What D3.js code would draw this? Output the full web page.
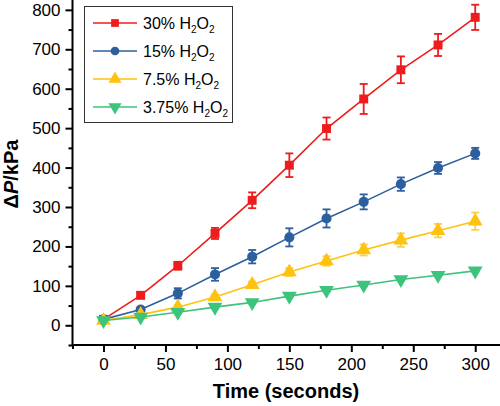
<!DOCTYPE html>
<html><head><meta charset="utf-8">
<script src="https://cdn.jsdelivr.net/npm/d3@7"></script>
<style>body{margin:0;background:#fff}text{font-family:"Liberation Sans",Arial,sans-serif}</style>
</head><body><svg id="c" width="500" height="406"></svg>
<script>
const times = [0,30,60,90,120,150,180,210,240,270,300];
const seriesNames = ["30%","15%","7.5%","3.75%"];
const h2o2_30 = [15,76,151,233,317,406,499,574,648,711,781];
const h2o2_30_err = [5,6,10,14,20,30,28,38,34,28,32];
const h2o2_15 = [15,40,81,129,174,223,271,313,358,399,436];
const h2o2_15_err = [5,6,13,16,17,23,23,19,17,15,14];
const h2o2_7_5 = [12,27,46,72,103,135,163,191,216,240,264];
const h2o2_7_5_err = [3,4,5,6,8,10,12,14,17,17,22];
const h2o2_3_75 = [12,21,33,46,58,74,89,102,116,127,138];
const h2o2_3_75_err = [2,2,3,3,3,3,3,3,3,3,3];
const xTicks = [0,50,100,150,200,250,300];
const yTicks = [0,100,200,300,400,500,600,700,800];

const colors = ["#ee1c1c","#2d5f9e","#ffc20e","#3cc37c"];
const errColors = ["#ee1c1c","#2d5f9e","#f7cf55","#3cc37c"];
const shapes = [d3.symbolSquare,d3.symbolCircle,d3.symbolTriangle,d3.symbolTriangle];
const sizes = [80,80,95,95];
const lsizes = [60,60,75,75];
const rot = [0,0,0,180];
const vals = [h2o2_30,h2o2_15,h2o2_7_5,h2o2_3_75];
const errs = [h2o2_30_err,h2o2_15_err,h2o2_7_5_err,h2o2_3_75_err];

const svg = d3.select("#c");
const x = d3.scaleLinear().domain([-25,320]).range([72.5,500]);
const y = d3.scaleLinear().domain([-50,825]).range([345,0]);

// axes
const xAxis = svg.append("g").attr("transform","translate(0,345)")
  .call(d3.axisBottom(x).tickValues(xTicks).tickSize(7).tickPadding(6).tickFormat(d3.format("d")));
svg.append("g").attr("transform","translate(0,345)")
  .call(d3.axisBottom(x).tickValues(d3.range(-25,320,25).filter(v=>v%50!==0)).tickSize(4).tickFormat(""))
  .select(".domain").remove();
const yAxis = svg.append("g").attr("transform","translate(72.5,0)")
  .call(d3.axisLeft(y).tickValues(yTicks).tickSize(7).tickPadding(5).tickFormat(d3.format("d")));
svg.append("g").attr("transform","translate(72.5,0)")
  .call(d3.axisLeft(y).tickValues(d3.range(-50,826,50).filter(v=>v%100!==0)).tickSize(4).tickFormat(""))
  .select(".domain").remove();
svg.selectAll(".domain").attr("stroke","#000").attr("stroke-width",2);
svg.selectAll(".tick line").attr("stroke","#000").attr("stroke-width",2);
svg.selectAll(".tick text").attr("font-size",17).attr("fill","#000").style("font-family","'Liberation Sans',Arial,sans-serif");
xAxis.select(".domain").attr("d","M72.5,0H500");
yAxis.select(".domain").attr("d","M0,345V0");

// series
vals.forEach((v,i)=>{
  const g = svg.append("g");
  const line = d3.line().x((d,j)=>x(times[j])).y(d=>y(d));
  g.append("path").attr("d",line(v)).attr("fill","none").attr("stroke",colors[i]).attr("stroke-width",1.6);
  v.forEach((d,j)=>{
    const e = errs[i][j], cx = x(times[j]);
    const eg = g.append("g").attr("stroke",errColors[i]).attr("stroke-width",1.8);
    eg.append("line").attr("x1",cx).attr("x2",cx).attr("y1",y(d-e)).attr("y2",y(d+e));
    eg.append("line").attr("x1",cx-4).attr("x2",cx+4).attr("y1",y(d-e)).attr("y2",y(d-e));
    eg.append("line").attr("x1",cx-4).attr("x2",cx+4).attr("y1",y(d+e)).attr("y2",y(d+e));
  });
  v.forEach((d,j)=>{
    g.append("path").attr("d",d3.symbol().type(shapes[i]).size(sizes[i])())
      .attr("transform",`translate(${x(times[j])},${y(d)}) rotate(${rot[i]})`)
      .attr("fill",colors[i]);
  });
});

// legend
const lg = svg.append("g");
lg.append("rect").attr("x",84.5).attr("y",6.5).attr("width",148).attr("height",116)
  .attr("fill","#fff").attr("stroke","#333").attr("stroke-width",1);
seriesNames.forEach((n,i)=>{
  const yy = 23 + i*28;
  lg.append("line").attr("x1",93).attr("x2",137).attr("y1",yy).attr("y2",yy).attr("stroke",colors[i]).attr("stroke-width",1.6);
  lg.append("path").attr("d",d3.symbol().type(shapes[i]).size(lsizes[i])())
    .attr("transform",`translate(115,${yy}) rotate(${rot[i]})`).attr("fill",colors[i]);
  const t = lg.append("text").attr("x",143).attr("y",yy+6).attr("font-size",16).attr("fill","#000");
  t.append("tspan").text(n+" H");
  t.append("tspan").text("2").attr("font-size",10).attr("dy",4);
  t.append("tspan").text("O").attr("dy",-4);
  t.append("tspan").text("2").attr("font-size",10).attr("dy",4);
});

// axis titles
svg.append("text").attr("x",286).attr("y",398).attr("text-anchor","middle")
  .attr("font-size",20).attr("font-weight","bold").text("Time (seconds)");
const yt = svg.append("text").attr("transform","translate(18,174) rotate(-90)").attr("text-anchor","middle")
  .attr("font-size",20).attr("font-weight","bold");
yt.append("tspan").text("Δ");
yt.append("tspan").text("P").attr("font-style","italic");
yt.append("tspan").text("/kPa");
</script></body></html>
